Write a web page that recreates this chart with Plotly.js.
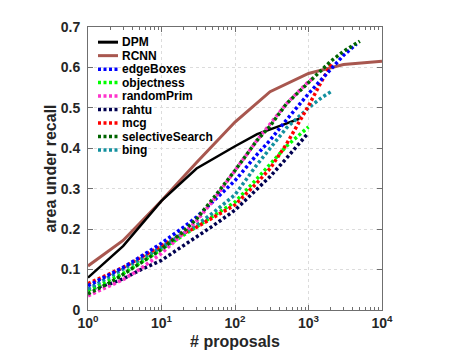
<!DOCTYPE html>
<html>
<head>
<meta charset="utf-8">
<script src="https://cdn.plot.ly/plotly-3.0.1.min.js"></script>
<style>html,body{margin:0;padding:0;background:#fff;}#chart{width:457px;height:353px;}</style>
</head>
<body>
<div id="chart"></div>
<script>
// ---- data ----
const seriesNames = ["DPM","RCNN","edgeBoxes","objectness","randomPrim","rahtu","mcg","selectiveSearch","bing"];
const dpmX = [1,3,10,30,100,200,400,750];
const dpmY = [0.08,0.158,0.27,0.35,0.405,0.435,0.455,0.473];
const rcnnX = [1,3,10,30,100,300,1000,2000,3000,10000];
const rcnnY = [0.109,0.172,0.27,0.365,0.465,0.54,0.585,0.60,0.607,0.615];
const edgeX = [1,2,3,5,10,20,30,50,100,200,300,500,1000,2000,3000,4500];
const edgeY = [0.06,0.088,0.105,0.13,0.165,0.205,0.23,0.268,0.32,0.385,0.42,0.47,0.535,0.595,0.63,0.658];
const objX = [1,2,3,5,10,20,30,50,100,200,300,500,1000];
const objY = [0.048,0.075,0.09,0.115,0.15,0.185,0.205,0.23,0.267,0.325,0.36,0.405,0.453];
const rpX = [1,2,3,5,10,20,30,50,100,200,300,500,1000,1200];
const rpY = [0.035,0.06,0.075,0.1,0.14,0.19,0.22,0.27,0.345,0.42,0.46,0.51,0.565,0.575];
const rahtuX = [1,2,3,5,10,20,30,50,100,200,300,500,950];
const rahtuY = [0.05,0.065,0.077,0.098,0.123,0.16,0.18,0.208,0.247,0.3,0.33,0.375,0.434];
const mcgX = [1,2,3,5,10,20,30,50,100,200,300,500,1000,1500,2100];
const mcgY = [0.065,0.09,0.105,0.128,0.158,0.19,0.205,0.228,0.26,0.315,0.35,0.41,0.505,0.565,0.612];
const ssX = [1,2,3,5,10,20,30,50,100,200,300,500,1000,2000,3000,5000];
const ssY = [0.04,0.068,0.088,0.115,0.15,0.195,0.225,0.275,0.345,0.42,0.455,0.51,0.562,0.615,0.64,0.665];
const bingX = [1,2,3,5,10,20,30,50,100,200,300,500,1000,1500,2100];
const bingY = [0.052,0.083,0.1,0.125,0.155,0.19,0.21,0.24,0.285,0.36,0.4,0.45,0.5,0.525,0.542];
const xTickVals = [1,10,100,1000,10000];
const xTickText = ["10<sup>0</sup>","10<sup>1</sup>","10<sup>2</sup>","10<sup>3</sup>","10<sup>4</sup>"];
const yTickVals = [0,0.1,0.2,0.3,0.4,0.5,0.6,0.7];
const yTickText = ["0","0.1","0.2","0.3","0.4","0.5","0.6","0.7"];

// ---- styles ----
const colors = ["#000000","#a8574f","#0000ff","#00ff00","#ff33cc","#000050","#ff0000","#006400","#12909f"];
const widths = [2.5,3,3.5,3.5,3.5,3.5,3.5,3.5,3.5];
const dashes = ["solid","solid","3px,2.5px","3px,2.5px","3px,2.5px","3px,2.5px","3px,2.5px","3px,2.5px","3px,2.5px"];
const xsAll = [dpmX,rcnnX,edgeX,objX,rpX,rahtuX,mcgX,ssX,bingX];
const ysAll = [dpmY,rcnnY,edgeY,objY,rpY,rahtuY,mcgY,ssY,bingY];

const order = [1,0,5,3,8,6,2,4,7];
const traces = order.map(i => ({
  x: xsAll[i], y: ysAll[i], name: seriesNames[i], type: "scatter", mode: "lines",
  line: {color: colors[i], width: widths[i], dash: dashes[i]},
  showlegend: false, hoverinfo: "skip"
}));

// ---- manual legend (compact spacing as in reference) ----
const L = 88, R = 382, T = 26.5, B = 310, W = 457, H = 353;
const px = v => (v - L) / (R - L);
const py = v => (B - v) / (B - T);
const shapes = [];
const annotations = [];
seriesNames.forEach((n, i) => {
  const yc = 41.7 + i * 13.5;
  shapes.push({type: "line", xref: "paper", yref: "paper", x0: px(98), x1: px(118), y0: py(yc), y1: py(yc),
    line: {color: colors[i], width: i < 2 ? 3 : 3.5, dash: dashes[i]}});
  annotations.push({xref: "paper", yref: "paper", x: px(119.5), y: py(yc), xanchor: "left", yanchor: "middle",
    text: "<b>" + n + "</b>", showarrow: false, font: {family: "Liberation Sans, Arial, sans-serif", size: 12, color: "#000"}});
});

const axisCommon = {
  showline: true, linecolor: "#6f6f6f", linewidth: 1, mirror: "ticks",
  ticks: "inside", ticklen: 5, tickcolor: "#6f6f6f",
  showgrid: true, gridcolor: "#dcdcdc", griddash: "dot", gridwidth: 1,
  zeroline: false,
  tickfont: {family: "Liberation Sans, Arial, sans-serif", size: 14, color: "#262626"}
};

const minorVals = [];
[1,10,100,1000].forEach(d => { for (let k = 2; k <= 9; k++) minorVals.push(d * k); });

const layout = {
  width: W, height: H,
  margin: {l: L, r: W - R, t: T, b: H - B, pad: 0},
  paper_bgcolor: "#fff", plot_bgcolor: "#fff",
  showlegend: false,
  xaxis: Object.assign({}, axisCommon, {
    type: "log", range: [0, 4], tickmode: "array", tickvals: xTickVals,
    ticktext: xTickText.map(t => "<b>" + t + "</b>"),
    minor: {tickmode: "array", tickvals: minorVals, ticks: "inside", ticklen: 3, tickcolor: "#6f6f6f", showgrid: false},
    title: {text: "<b># proposals</b>", font: {family: "Liberation Sans, Arial, sans-serif", size: 16, color: "#262626"}, standoff: 6}
  }),
  yaxis: Object.assign({}, axisCommon, {
    range: [0, 0.7], tickmode: "array", tickvals: yTickVals, ticktext: yTickText.map(t => "<b>" + t + "</b>"),
    ticklabelstandoff: 4,
    title: {text: "<b>area under recall</b>", font: {family: "Liberation Sans, Arial, sans-serif", size: 16, color: "#262626"}, standoff: 0}
  }),
  shapes: shapes,
  annotations: annotations
};

Plotly.newPlot("chart", traces, layout, {displayModeBar: false, staticPlot: true});
</script>
</body>
</html>
